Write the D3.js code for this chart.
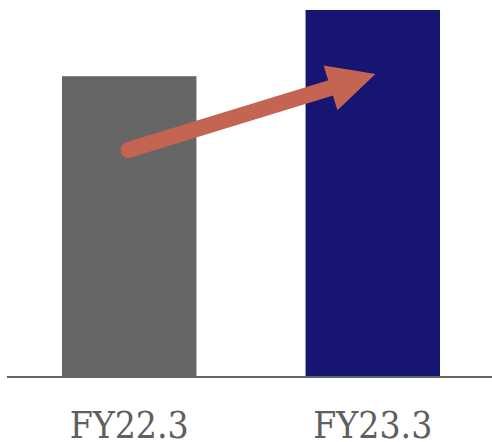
<!DOCTYPE html>
<html>
<head>
<meta charset="utf-8">
<script src="https://cdn.jsdelivr.net/npm/d3@7/dist/d3.min.js"></script>
<style>
  html, body { margin: 0; padding: 0; background: #ffffff; }
  svg { display: block; }
</style>
</head>
<body>
<script>
// ---- data ----
const categories = ["FY22.3", "FY23.3"];
const values = [100, 122];
const barColors = ["#666666", "#171572"];
// arrow annotation (category, value) for tail and tip
const arrowFrom = ["FY22.3", 75.5];
const arrowTo = ["FY23.3", 100.7];

// ---- layout ----
const W = 492, H = 442;
const svg = d3.select("body").append("svg").attr("width", W).attr("height", H);

const x = d3.scaleBand().domain(categories).range([62, 440]).paddingInner(0.448).paddingOuter(0);
const y = d3.scaleLinear().domain([0, 122]).range([377, 10]);

// bars
svg.append("g").selectAll("rect")
  .data(categories)
  .join("rect")
  .attr("x", d => x(d))
  .attr("width", x.bandwidth())
  .attr("y", (d, i) => y(values[i]))
  .attr("height", (d, i) => y(0) - y(values[i]))
  .attr("fill", (d, i) => barColors[i]);

// baseline
svg.append("line")
  .attr("x1", 7).attr("x2", W)
  .attr("y1", y(0)).attr("y2", y(0))
  .attr("stroke", "#666666").attr("stroke-width", 2);

// category labels
const axis = d3.axisBottom(x).tickSize(0).tickPadding(0);
const ax = svg.append("g").attr("transform", `translate(0,${y(0)})`).call(axis);
ax.select(".domain").remove();
ax.selectAll("text")
  .attr("dy", null)
  .attr("y", 61)
  .attr("font-family", "'DejaVu Serif', serif")
  .attr("font-stretch", "condensed")
  .attr("font-size", 37)
  .attr("fill", "#5f5f5f");

// arrow
const tx = x(arrowFrom[0]) + x.bandwidth() * 0.495, ty = y(arrowFrom[1]);
const hx = x(arrowTo[0]) + x.bandwidth() * 0.52, hy = y(arrowTo[1]);
const ang = Math.atan2(hy - ty, hx - tx);
const headLen = 47, headHalf = 23.5, shaft = 16;
const bx = hx - headLen * Math.cos(ang), by = hy - headLen * Math.sin(ang);
const arrowColor = "#c46452";
svg.append("line")
  .attr("x1", tx).attr("y1", ty)
  .attr("x2", bx + 2 * Math.cos(ang)).attr("y2", by + 2 * Math.sin(ang))
  .attr("stroke", arrowColor).attr("stroke-width", shaft).attr("stroke-linecap", "round");
const px = -Math.sin(ang), py = Math.cos(ang);
svg.append("path")
  .attr("d", `M${hx},${hy}L${bx + px * headHalf},${by + py * headHalf}L${bx - px * headHalf},${by - py * headHalf}Z`)
  .attr("fill", arrowColor);
</script>
</body>
</html>
